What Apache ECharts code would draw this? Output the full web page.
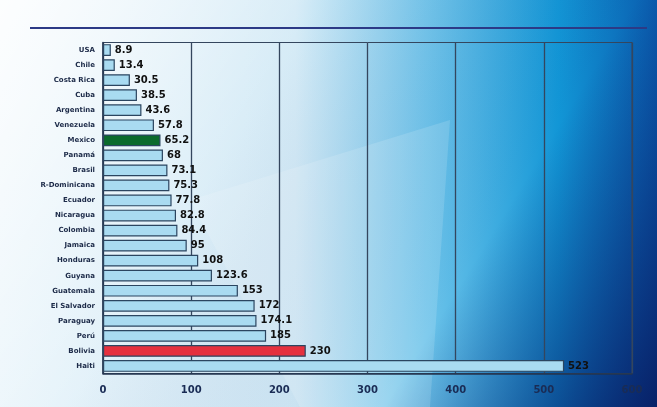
<!DOCTYPE html>
<html>
<head>
<meta charset="utf-8">
<script src="https://cdn.jsdelivr.net/npm/echarts@6/dist/echarts.min.js"></script>
<style>
html, body { margin: 0; padding: 0; }
#chart { width: 657px; height: 407px; }
</style>
</head>
<body>
<div id="chart"></div>
<script>
var countries = ['USA', 'Chile', 'Costa Rica', 'Cuba', 'Argentina', 'Venezuela', 'Mexico', 'Panamá',
    'Brasil', 'R-Dominicana', 'Ecuador', 'Nicaragua', 'Colombia', 'Jamaica', 'Honduras', 'Guyana',
    'Guatemala', 'El Salvador', 'Paraguay', 'Perú', 'Bolivia', 'Haiti'];
var values = [8.9, 13.4, 30.5, 38.5, 43.6, 57.8, 65.2, 68, 73.1, 75.3, 77.8, 82.8, 84.4, 95, 108, 123.6,
    153, 172, 174.1, 185, 230, 523];
var ticks = [0, 100, 200, 300, 400, 500, 600];

(function () {
    var myChart = echarts.init(document.getElementById('chart'));

    // highlighted bars
    var barColors = { 'Mexico': '#0b6a2c', 'Bolivia': '#e5303e' };

    var option = {
        backgroundColor: new echarts.graphic.LinearGradient(0, 0, 1, 0, [
            { offset: 0, color: '#e6f3fa' },
            { offset: 0.45, color: '#cfe8f5' },
            { offset: 0.65, color: '#6cc3ea' },
            { offset: 0.85, color: '#1296d6' },
            { offset: 1, color: '#0a5cae' }
        ]),
        graphic: [
            {
                type: 'rect',
                silent: true,
                z: -10,
                shape: { x: 0, y: 0, width: 657, height: 407 },
                style: {
                    fill: new echarts.graphic.LinearGradient(0, 0, 1, 1, [
                        { offset: 0, color: 'rgba(255,255,255,0.9)' },
                        { offset: 0.35, color: 'rgba(255,255,255,0.15)' },
                        { offset: 0.7, color: 'rgba(10,40,120,0)' },
                        { offset: 1, color: 'rgba(8,30,100,0.95)' }
                    ])
                }
            },
            {
                type: 'polygon',
                silent: true,
                z: -9,
                shape: { points: [[190, 200], [450, 120], [430, 407], [300, 407]] },
                style: { fill: 'rgba(255,255,255,0.14)' }
            },
            {
                type: 'line',
                silent: true,
                shape: { x1: 30, y1: 28, x2: 647, y2: 28 },
                style: { stroke: '#2c3a86', lineWidth: 2 }
            }
        ],
        grid: {
            left: 103,
            right: 25,
            top: 42.5,
            bottom: 33.5,
            show: true,
            borderColor: '#34465e',
            borderWidth: 1
        },
        xAxis: {
            type: 'value',
            min: 0,
            max: 600,
            interval: 100,
            axisLine: { show: true, lineStyle: { color: '#23344f', width: 1.5 } },
            axisTick: { show: false },
            splitLine: { show: true, lineStyle: { color: '#34465e', width: 1.3 } },
            axisLabel: {
                color: '#1a2c55',
                fontWeight: 'bold',
                fontSize: 10,
                fontFamily: 'DejaVu Sans',
                margin: 12,
                formatter: function (v) { return ticks.indexOf(v) >= 0 ? String(v) : ''; }
            }
        },
        yAxis: {
            type: 'category',
            inverse: true,
            data: countries,
            axisLine: { show: true, lineStyle: { color: '#23344f', width: 1.5 } },
            axisTick: { show: false },
            axisLabel: {
                color: '#1c2a48',
                fontWeight: 'bold',
                fontSize: 7,
                fontFamily: 'DejaVu Sans',
                margin: 8
            }
        },
        series: [
            {
                type: 'bar',
                barWidth: '78%',
                data: values.map(function (v, i) {
                    var c = barColors[countries[i]];
                    return c ? { value: v, itemStyle: { color: c } } : v;
                }),
                itemStyle: {
                    color: '#a9dbf1',
                    borderColor: '#2b4560',
                    borderWidth: 1.2
                },
                label: {
                    show: true,
                    position: 'right',
                    distance: 4,
                    color: '#111',
                    fontWeight: 'bold',
                    fontSize: 10,
                    fontFamily: 'DejaVu Sans'
                }
            }
        ]
    };
    myChart.setOption(option);
    window.addEventListener('resize', function () {
        myChart.resize();
    })
})();
</script>
</body>
</html>
